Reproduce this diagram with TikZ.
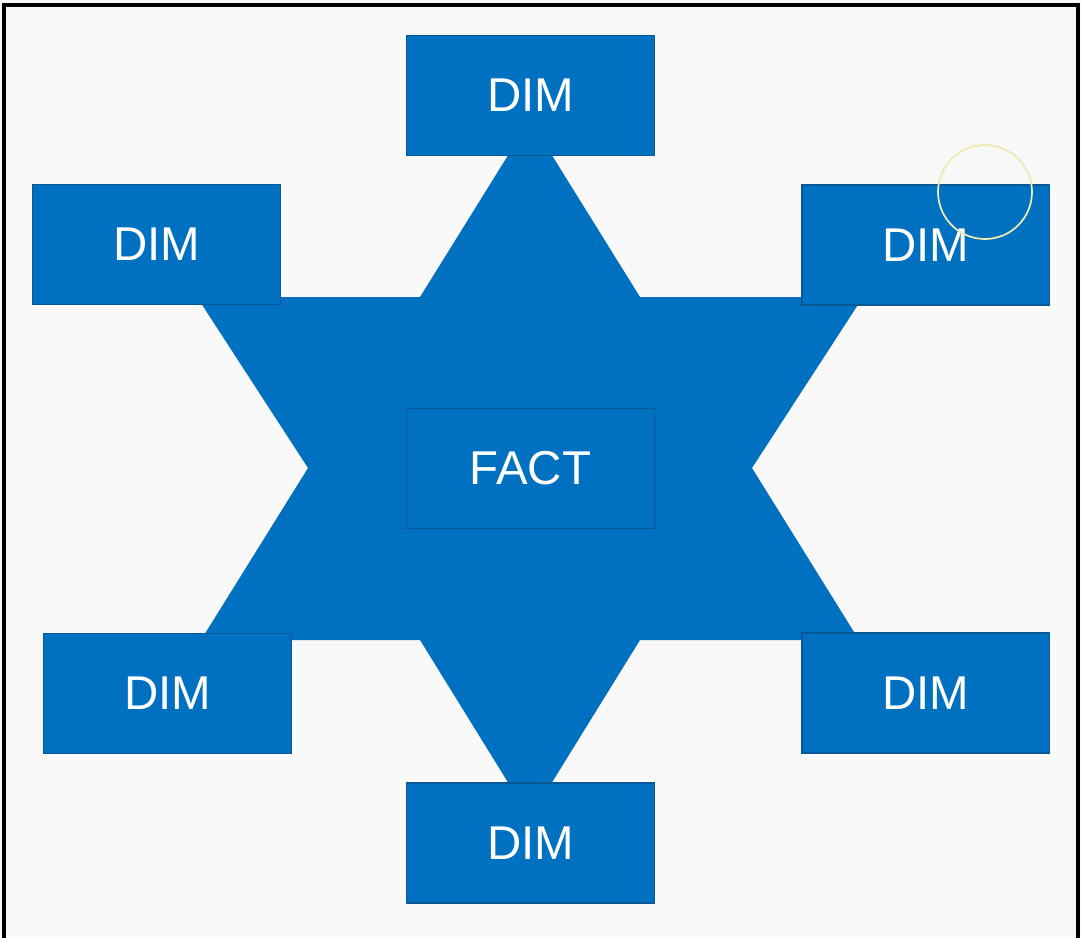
\documentclass[tikz,border=0pt]{standalone}
\usepackage{fontspec}
\setmainfont{Liberation Sans}
\definecolor{dimblue}{HTML}{0070C0}
\definecolor{dimedge}{HTML}{0A5896}
\definecolor{paper}{HTML}{F9F9F9}
\definecolor{ringyellow}{HTML}{EEEBB0}

\begin{document}
\begin{tikzpicture}[x=0.02cm,y=-0.02cm,
    dimbox/.style={draw=dimedge, line width=1.1pt, fill=dimblue, text=white,
      minimum width=4.96cm, minimum height=2.4cm, inner sep=0pt,
      font=\fontsize{27}{30}\selectfont}]
        \fill[paper] (0,0) rectangle (1081,937);
        \useasboundingbox (0,0) rectangle (1081,937);
        \draw[line width=1.8pt] (4,945) -- (4,5) -- (1078,5) -- (1078,945);
        \fill[dimblue] (530,120) -- (640,297) -- (863,297) -- (752,468) -- (859,640) -- (640,640)
            -- (530,818) -- (420,640) -- (201,640) -- (308,468) -- (197,297) -- (420,297) -- cycle;
        \node[dimbox] (fact) at (530.5,468.5) {FACT};
        \node[dimbox] (dimtop) at (530.5,95.5) {DIM};
        \node[dimbox] (dimul) at (156.5,244.5) {DIM};
        \node[dimbox] (dimur) at (925.5,245) {DIM};
        \node[dimbox] (dimll) at (167.5,693.5) {DIM};
        \node[dimbox] (dimlr) at (925.5,693) {DIM};
        \node[dimbox] (dimbot) at (530.5,843) {DIM};
        \draw[ringyellow, line width=1pt] (985,192) circle[radius=0.94cm];
    \end{tikzpicture}
\end{document}
